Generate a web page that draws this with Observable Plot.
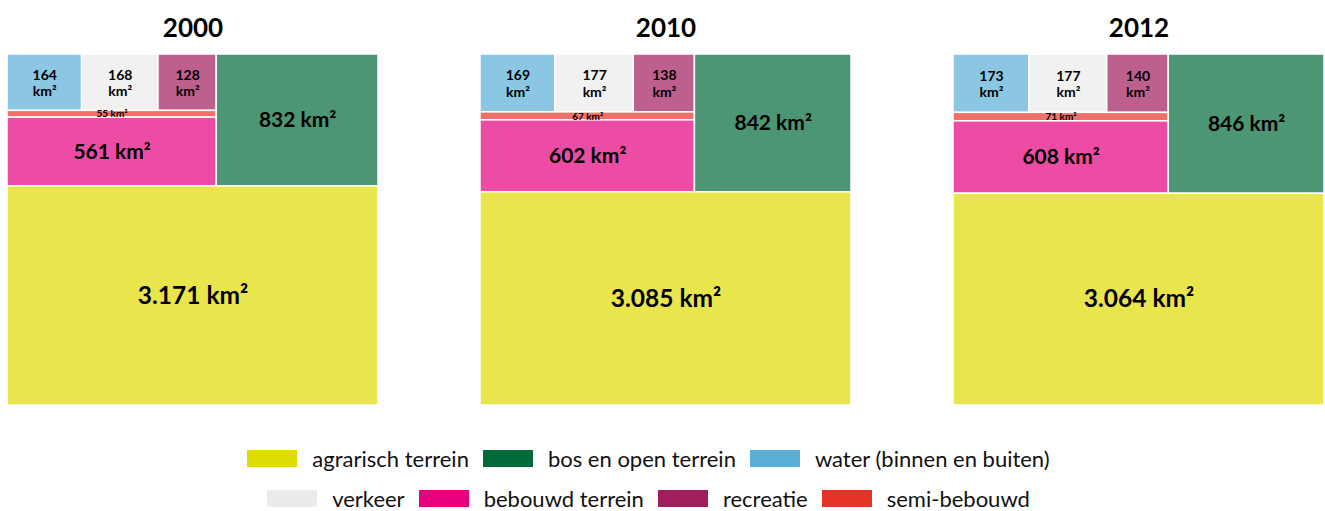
<!DOCTYPE html>
<html>
<head>
<meta charset="utf-8">
<script src="https://cdn.jsdelivr.net/npm/d3@7"></script>
<script src="https://cdn.jsdelivr.net/npm/@observablehq/plot@0.6"></script>
<style>
  body { margin: 0; background: #fff; font-family: Lato, "Open Sans", sans-serif; }
  #legend { display: flex; flex-direction: column; align-items: center; padding-top: 36px; padding-right: 28px; }
  .lrow { display: flex; align-items: center; height: 24px; margin-bottom: 16px; }
  .litem { display: flex; align-items: center; margin: 0 7px; }
  .lsw { width: 50px; height: 17px; margin-right: 15px; }
  .ltx { font-size: 22px; color: #111; font-weight: 400; }
</style>
</head>
<body>
<div id="chart"></div>
<div id="legend"></div>
<script>
const years = ["2000", "2010", "2012"];
const categories = ["agrarisch terrein", "bos en open terrein", "water (binnen en buiten)", "verkeer", "bebouwd terrein", "recreatie", "semi-bebouwd"];
const agrarisch = [3171, 3085, 3064];
const bos = [832, 842, 846];
const water = [164, 169, 173];
const verkeer = [168, 177, 177];
const bebouwd = [561, 602, 608];
const recreatie = [128, 138, 140];
const semi = [55, 67, 71];
const palette = ["#dedc00", "#006a38", "#5aafd5", "#ebebeb", "#e6007e", "#a21d5c", "#e6332a"];
const legendRows = [categories.slice(0, 3), categories.slice(3)];

const fmt = d3.formatLocale({decimal: ",", thousands: ".", grouping: [3], currency: ["€", ""]}).format(",d");

const tile = (node, x0, y0, x1, y1) =>
  (node.depth % 2 === 0 ? d3.treemapSlice : d3.treemapDice)(node, x0, y0, x1, y1);

const cells = years.flatMap((year, i) => {
  const leaf = (k, arr) => ({category: categories[k], value: arr[i]});
  const tree = {children: [
    {children: [
      {children: [
        {children: [leaf(2, water), leaf(3, verkeer), leaf(5, recreatie)]},
        leaf(6, semi),
        leaf(4, bebouwd)
      ]},
      leaf(1, bos)
    ]},
    leaf(0, agrarisch)
  ]};
  const root = d3.treemap().tile(tile).size([1, 1])(d3.hierarchy(tree).sum(d => d.value));
  return root.leaves().map(n => ({year, category: n.data.category, value: n.data.value, x0: n.x0, x1: n.x1, y0: n.y0, y1: n.y1}));
});

const cx = d => (d.x0 + d.x1) / 2;
const cy = d => (d.y0 + d.y1) / 2;
const labelOne = d => `${fmt(d.value)} km²`;
const labelTwo = d => `${fmt(d.value)}\nkm²`;
const textOpts = (filter, text, fontSize, extra = {}) =>
  Plot.text(cells.filter(filter), {x: cx, y: cy, fx: "year", text, fontSize, fontWeight: "bold", fill: "#000", ...extra});

const chart = Plot.plot({
  width: 1325,
  height: 410,
  marginTop: 54,
  marginBottom: 5,
  marginLeft: 7,
  marginRight: 0,
  style: {fontFamily: "Lato, 'Open Sans', sans-serif", background: "#fff"},
  fx: {domain: years, paddingInner: 0.2154, paddingOuter: 0, label: null},
  x: {domain: [0, 1], axis: null},
  y: {domain: [0, 1], reverse: true, axis: null},
  color: {domain: categories, range: palette},
  marks: [
    Plot.axisFx({anchor: "top", tickSize: 0, tickPadding: 18, fontSize: 26, fontWeight: "bold", label: null, fill: "#000"}),
    Plot.rect(cells, {x1: "x0", x2: "x1", y1: "y0", y2: "y1", fx: "year", fill: "category", fillOpacity: 0.7, stroke: "white", strokeWidth: 1.5}),
    textOpts(d => d.value >= 2000, labelOne, 24.5),
    textOpts(d => d.value >= 400 && d.value < 2000, labelOne, 21),
    textOpts(d => d.value >= 100 && d.value < 400, labelTwo, 14, {lineHeight: 1.2}),
    textOpts(d => d.value < 100, labelOne, 10)
  ]
});
document.getElementById("chart").appendChild(chart);

const legend = document.getElementById("legend");
for (const row of legendRows) {
  const r = document.createElement("div");
  r.className = "lrow";
  for (const c of row) {
    const item = document.createElement("div");
    item.className = "litem";
    const sw = document.createElement("div");
    sw.className = "lsw";
    sw.style.background = palette[categories.indexOf(c)];
    const tx = document.createElement("span");
    tx.className = "ltx";
    tx.textContent = c;
    item.appendChild(sw);
    item.appendChild(tx);
    r.appendChild(item);
  }
  legend.appendChild(r);
}
</script>
</body>
</html>
